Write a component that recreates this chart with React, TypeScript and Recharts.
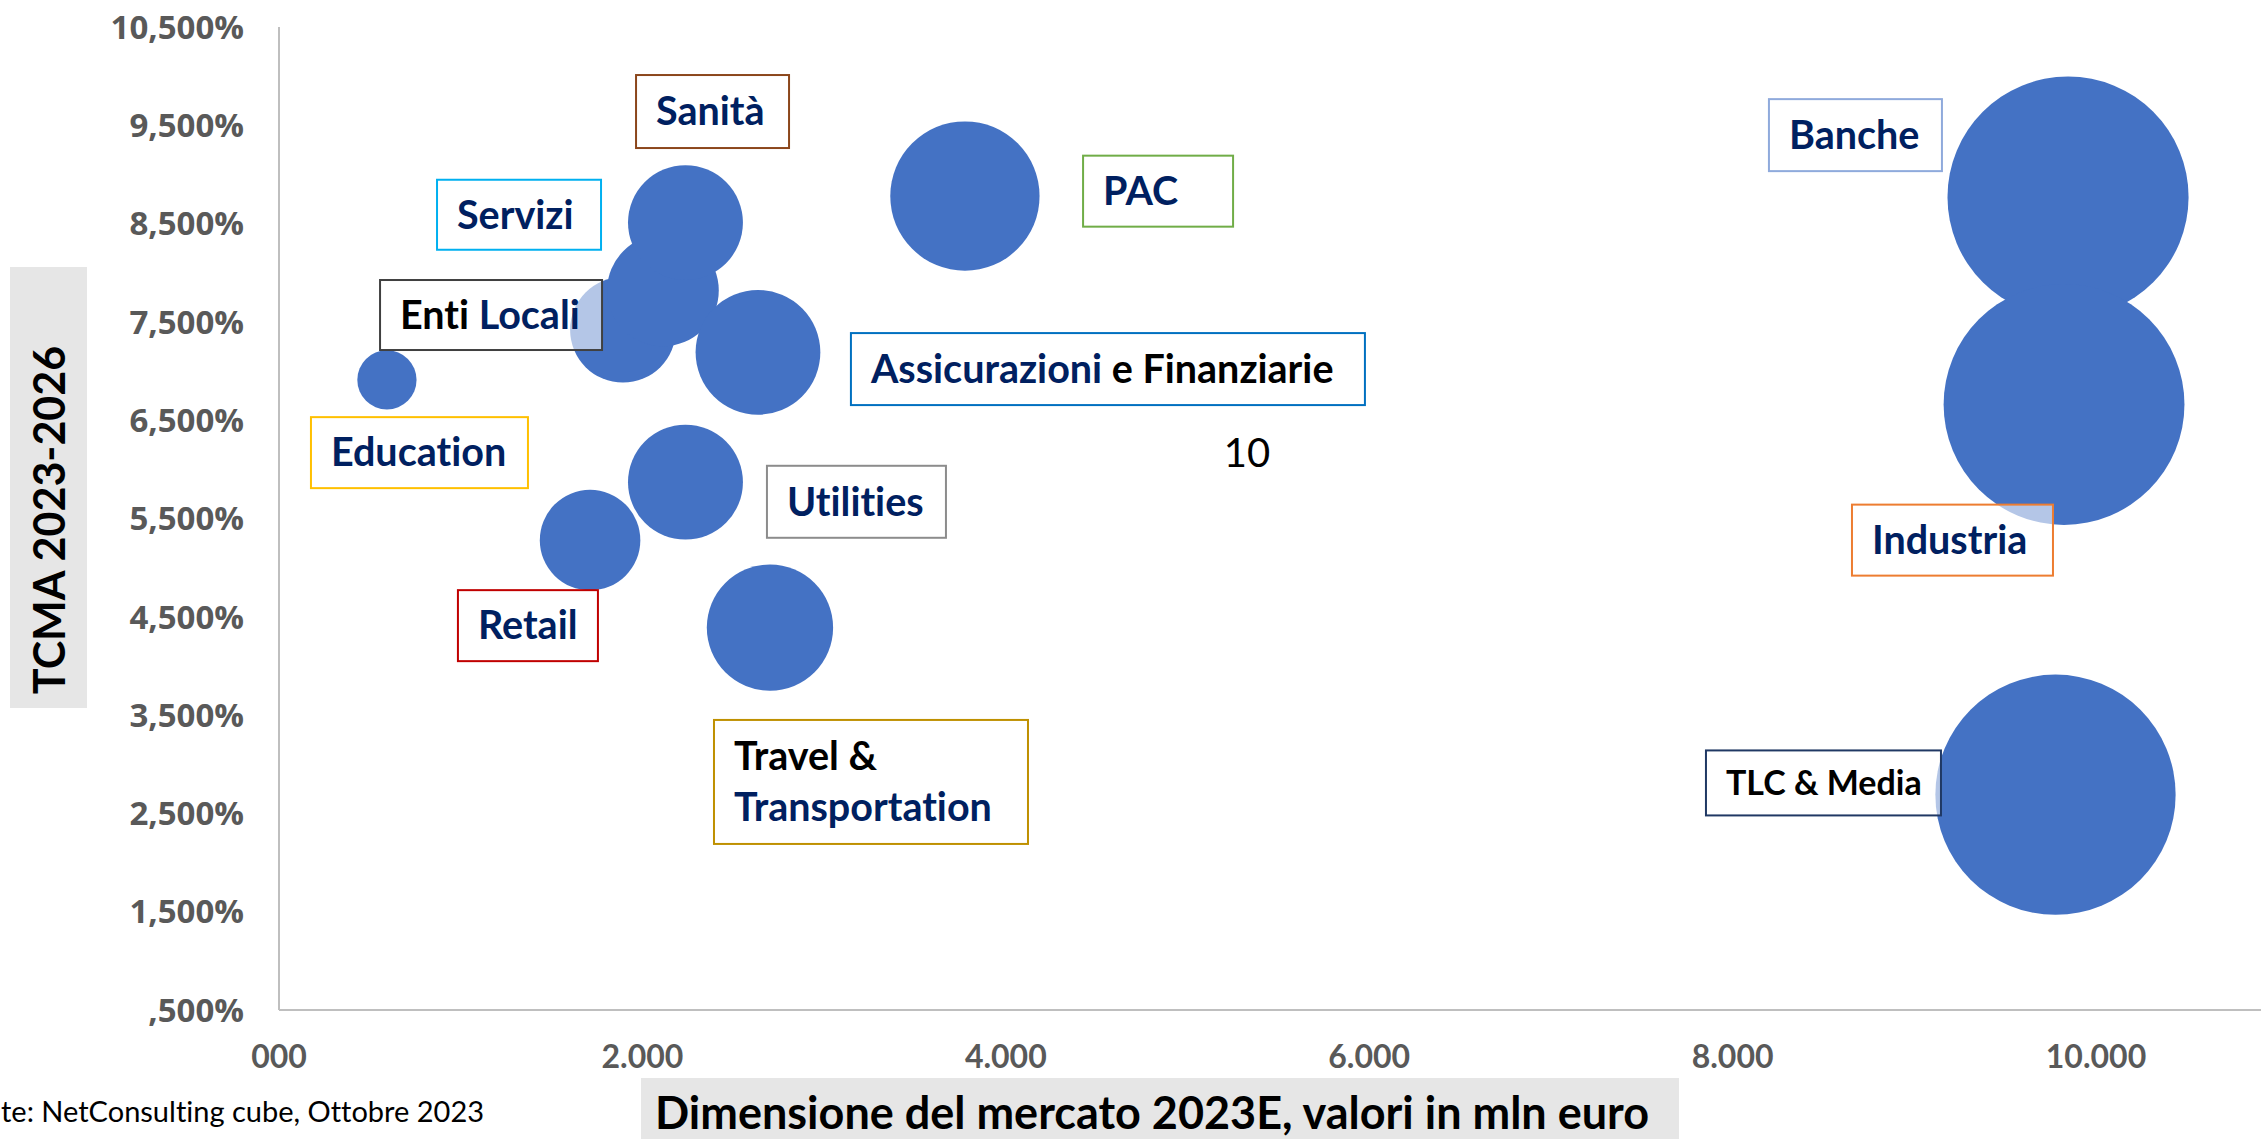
import React from 'react';
import { ScatterChart, Scatter, XAxis, YAxis, ZAxis } from 'recharts';

// ---------- data ----------
const SECTORS = [
  'Education',
  'Enti Locali',
  'Servizi',
  'Sanità',
  'PAC',
  'Assicurazioni e Finanziarie',
  'Utilities',
  'Retail',
  'Travel & Transportation',
  'Banche',
  'Industria',
  'TLC & Media',
];
// Dimensione del mercato 2023E (mln euro)
const MARKET_2023E = [594, 1893, 2113, 2237, 3775, 2636, 2237, 1712, 2702, 9846, 9824, 9777];
// TCMA 2023-2026 (%)
const TCMA_2023_2026 = [6.91, 7.42, 7.82, 8.51, 8.78, 7.19, 5.87, 5.28, 4.39, 8.77, 6.66, 2.69];
// bubble size (market size, mln euro)
const BUBBLE_SIZE = [594, 1893, 2113, 2237, 3775, 2636, 2237, 1712, 2702, 9846, 9824, 9777];

const X_TICKS = [0, 2000, 4000, 6000, 8000, 10000];
const Y_TICKS = [0.5, 1.5, 2.5, 3.5, 4.5, 5.5, 6.5, 7.5, 8.5, 9.5, 10.5];

const X_TITLE = 'Dimensione del mercato 2023E, valori in mln euro';
const Y_TITLE = 'TCMA 2023-2026';
const SOURCE = 'te: NetConsulting cube, Ottobre 2023';
const STRAY_NUMBER = '10';

const bubbles = SECTORS.map((name, i) => ({
  name,
  x: MARKET_2023E[i],
  y: TCMA_2023_2026[i],
  size: BUBBLE_SIZE[i],
}));

// ---------- layout of the callout boxes (anchor in data units) ----------
const NAVY = '#002060';
const BLACK = '#000000';
type Seg = [string, string];
interface LabelCfg {
  id: string;
  x: number;
  y: number;
  w: number;
  h: number;
  border: string | null;
  fontSize: number;
  weight: number;
  lines: Seg[][];
}
const LABEL_LAYOUT: LabelCfg[] = [
  { id: 'Sanità', x: 2386, y: 9.64, w: 153, h: 73, border: '#8B461B', fontSize: 39.5, weight: 700, lines: [[['Sanità', NAVY]]] },
  { id: 'Servizi', x: 1321, y: 8.59, w: 164, h: 70, border: '#00B0F0', fontSize: 39.5, weight: 700, lines: [[['Servizi', NAVY]]] },
  { id: 'Enti Locali', x: 1167, y: 7.57, w: 222, h: 70, border: '#404040', fontSize: 39.5, weight: 700, lines: [[['Enti ', BLACK], ['Locali', NAVY]]] },
  { id: 'Education', x: 773, y: 6.17, w: 217, h: 71, border: '#FFC000', fontSize: 39.5, weight: 700, lines: [[['Education', NAVY]]] },
  { id: 'Assicurazioni', x: 4562, y: 7.02, w: 514, h: 72, border: '#0070C0', fontSize: 39.5, weight: 700, lines: [[['Assicurazioni', NAVY], [' e Finanziarie', BLACK]]] },
  { id: 'PAC', x: 4838, y: 8.83, w: 150, h: 71, border: '#70AD47', fontSize: 39.5, weight: 700, lines: [[['PAC', NAVY]]] },
  { id: 'Utilities', x: 3178, y: 5.67, w: 179, h: 72, border: '#8C8C8C', fontSize: 39.5, weight: 700, lines: [[['Utilities', NAVY]]] },
  { id: 'Retail', x: 1370, y: 4.41, w: 140, h: 71, border: '#C00000', fontSize: 39.5, weight: 700, lines: [[['Retail', NAVY]]] },
  { id: 'Travel', x: 3258, y: 2.82, w: 314, h: 124, border: '#BF9000', fontSize: 39.5, weight: 700, lines: [[['Travel &', BLACK]], [['Transportation', NAVY]]] },
  { id: 'Banche', x: 8676, y: 9.40, w: 173, h: 72, border: '#8FAADC', fontSize: 39.5, weight: 700, lines: [[['Banche', NAVY]]] },
  { id: 'Industria', x: 9210, y: 5.28, w: 201, h: 71, border: '#ED7D31', fontSize: 39.5, weight: 700, lines: [[['Industria', NAVY]]] },
  { id: 'TLC', x: 8500, y: 2.81, w: 235, h: 65, border: '#203864', fontSize: 34, weight: 700, lines: [[['TLC & Media', BLACK]]] },
  { id: 'ten', x: 5327, y: 6.17, w: 0, h: 0, border: null, fontSize: 40, weight: 400, lines: [[[STRAY_NUMBER, BLACK]]] },
];

const FONT = 'Lato, "Open Sans", sans-serif';

const fmtX = (v: number) => (v === 0 ? '000' : `${v / 1000}.000`);
const fmtY = (v: number) => v.toFixed(3).replace('.', ',').replace(/^0/, '') + '%';

const Bubble = (p: any) => {
  const r = p.width ? p.width / 2 : Math.sqrt(Math.max(p.size || 0, 0) / Math.PI);
  return <circle cx={p.cx} cy={p.cy} r={r} fill="#4472C4" />;
};

const LabelBox = (p: any) => {
  const cfg: LabelCfg = p.payload;
  const { cx, cy } = p;
  if (!cfg.border) {
    return (
      <text x={cx} y={cy + cfg.fontSize * 0.36} textAnchor="middle" fontFamily={FONT} fontWeight={cfg.weight} fontSize={cfg.fontSize} fill={BLACK}>
        {cfg.lines[0][0][0]}
      </text>
    );
  }
  const left = cx - cfg.w / 2;
  const top = cy - cfg.h / 2;
  const lh = 51;
  const n = cfg.lines.length;
  return (
    <g>
      <rect x={left} y={top} width={cfg.w} height={cfg.h} fill="#FFFFFF" fillOpacity={0.6} stroke={cfg.border} strokeWidth={2} />
      {cfg.lines.map((segs, li) => (
        <text
          key={li}
          x={left + 20}
          y={cy - ((n - 1) * lh) / 2 + li * lh + cfg.fontSize * 0.35}
          fontFamily={FONT}
          fontWeight={cfg.weight}
          fontSize={cfg.fontSize}
          style={{ whiteSpace: 'pre' }}
        >
          {segs.map((s, si) => (
            <tspan key={si} fill={s[1]}>
              {s[0]}
            </tspan>
          ))}
        </text>
      ))}
    </g>
  );
};

export default function App() {
  return (
    <div
      style={{
        position: 'absolute',
        left: 0,
        top: 0,
        width: 2261,
        height: 1139,
        background: '#fff',
        overflow: 'hidden',
        fontVariantLigatures: 'none',
        fontFeatureSettings: '"liga" 0, "clig" 0',
      }}
    >
      <ScatterChart width={2261} height={1139} margin={{ top: 27, right: 0, bottom: 0, left: 0 }}>
        <XAxis
          type="number"
          dataKey="x"
          domain={[0, 10908]}
          ticks={X_TICKS}
          interval={0}
          tickFormatter={fmtX}
          height={129}
          axisLine={{ stroke: '#BFBFBF', strokeWidth: 2 }}
          tickLine={false}
          tickSize={0}
          tickMargin={35}
          tick={{ fontFamily: FONT, fontWeight: 700, fontSize: 32, fill: '#595959' }}
          allowDataOverflow
        />
        <YAxis
          type="number"
          dataKey="y"
          domain={[0.5, 10.5]}
          ticks={Y_TICKS}
          interval={0}
          tickFormatter={fmtY}
          width={279}
          axisLine={{ stroke: '#BFBFBF', strokeWidth: 2 }}
          tickLine={false}
          tickSize={0}
          tickMargin={35}
          tick={{ fontFamily: '"Open Sans", sans-serif', fontWeight: 700, fontSize: 33, fill: '#595959' }}
          allowDataOverflow
        />
        <ZAxis type="number" dataKey="size" domain={[0, 10000]} range={[0, 46370]} />
        <Scatter data={bubbles} shape={Bubble} isAnimationActive={false} />
        <Scatter data={LABEL_LAYOUT} shape={LabelBox} isAnimationActive={false} />
      </ScatterChart>
      <svg width={2261} height={1139} style={{ position: 'absolute', left: 0, top: 0, pointerEvents: 'none' }}>
        <rect x={10} y={267} width={77} height={441} fill="#E6E6E6" />
        <text transform="translate(65,520) rotate(-90)" x={0} y={0} textAnchor="middle" fontFamily={FONT} fontWeight={700} fontSize={43} fill={BLACK}>
          {Y_TITLE}
        </text>
        <rect x={641} y={1078} width={1038} height={70} fill="#E6E6E6" />
        <text x={1152} y={1129} textAnchor="middle" fontFamily={FONT} fontWeight={700} fontSize={45} fill={BLACK}>
          {X_TITLE}
        </text>
        <text x={1} y={1122} fontFamily={FONT} fontWeight={400} fontSize={29} fill={BLACK}>
          {SOURCE}
        </text>
      </svg>
    </div>
  );
}
